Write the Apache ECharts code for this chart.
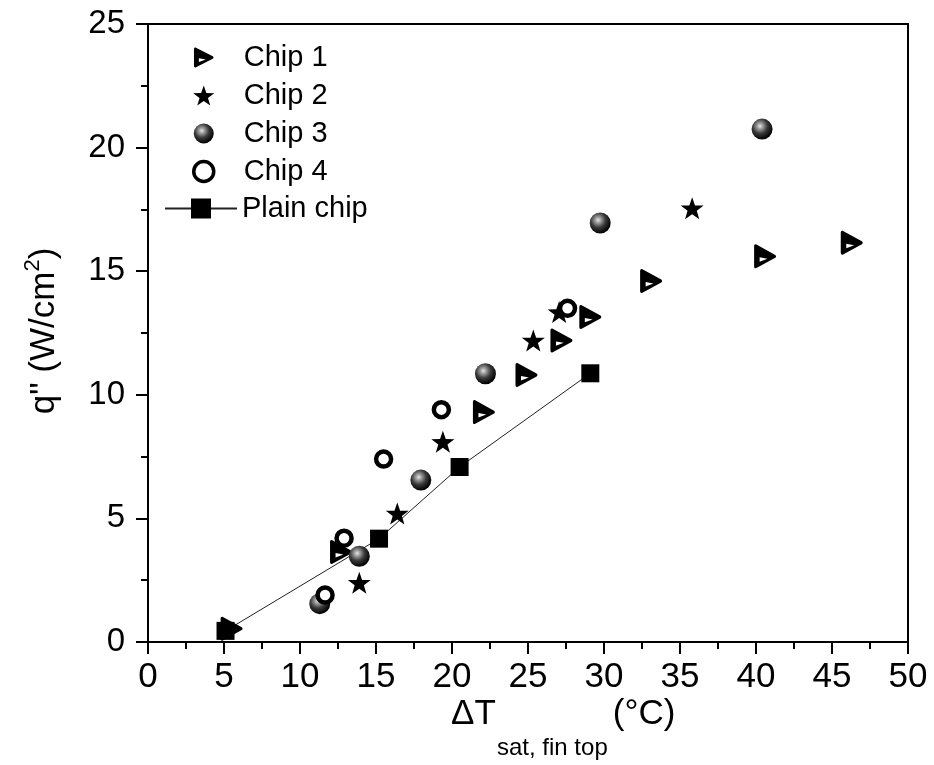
<!DOCTYPE html>
<html>
<head>
<meta charset="utf-8">
<script src="https://cdn.jsdelivr.net/npm/echarts@6/dist/echarts.min.js"></script>
<style>
  html, body { margin: 0; padding: 0; background: #ffffff; }
  #chart { width: 934px; height: 765px; }
</style>
</head>
<body>
<div id="chart"></div>
<script>
// Superheat (deg C) and heat flux (W/cm^2) for each chip
const chip1X = [5.5, 12.7, 22.1, 24.9, 27.2, 29.1, 33.1, 40.6, 46.3];
const chip1Y = [0.54, 3.64, 9.3, 10.8, 12.2, 13.15, 14.6, 15.6, 16.15];
const chip2X = [13.9, 16.4, 19.4, 25.35, 27.05, 35.8];
const chip2Y = [2.4, 5.2, 8.1, 12.2, 13.35, 17.55];
const chip3X = [11.3, 13.9, 17.95, 22.2, 29.75, 40.4];
const chip3Y = [1.55, 3.47, 6.55, 10.85, 16.95, 20.75];
const chip4X = [11.65, 12.9, 15.5, 19.3, 27.6];
const chip4Y = [1.9, 4.2, 7.4, 9.4, 13.5];
const plainX = [5.1, 15.2, 20.5, 29.1];
const plainY = [0.45, 4.18, 7.08, 10.87];

const xTicks = [0, 5, 10, 15, 20, 25, 30, 35, 40, 45, 50];
const yTicks = [0, 5, 10, 15, 20, 25];

const seriesNames = ['Chip 1', 'Chip 2', 'Chip 3', 'Chip 4', 'Plain chip'];

const pairs = (xs, ys) => xs.map((x, i) => [x, ys[i]]);

// right-pointing triangle with a small white notch
const triangleSymbol = 'path://M12,2 C6,-1 2,3 2,9 L2,91 C2,97 6,101 12,98 L94,56 C99,53 99,47 94,44 Z M26,54 L60,60 L26,72 Z';

// five-pointed star
function starSymbol() {
  const pts = [];
  for (let i = 0; i < 10; i++) {
    const a = (-90 + i * 36) * Math.PI / 180;
    const r = i % 2 === 0 ? 50 : 20;
    pts.push((50 + r * Math.cos(a)).toFixed(2) + ',' + (50 + r * Math.sin(a)).toFixed(2));
  }
  return 'path://M' + pts.join(' L') + ' Z';
}

const sphereFill = {
  type: 'radial', x: 0.4, y: 0.36, r: 0.64,
  colorStops: [
    { offset: 0, color: '#e8e8e8' },
    { offset: 0.18, color: '#a8a8a8' },
    { offset: 0.55, color: '#3a3a3a' },
    { offset: 1, color: '#000000' }
  ]
};

const FONT = 'Liberation Sans, Arial, sans-serif';

const chart = echarts.init(document.getElementById('chart'), null, { renderer: 'canvas' });

chart.setOption({
  animation: false,
  backgroundColor: '#ffffff',
  grid: {
    left: 148, right: 26, top: 24, bottom: 123,
    show: true, borderColor: '#000', borderWidth: 2, backgroundColor: 'transparent',
    outerBoundsMode: 'none'
  },
  legend: [
    {
      data: [
        seriesNames[0], seriesNames[1], seriesNames[2],
        { name: seriesNames[3], itemStyle: { borderWidth: 3.5 } }
      ],
      orient: 'vertical',
      left: 187, top: 36,
      itemWidth: 70, itemHeight: 20, itemGap: 5,
      textStyle: { fontSize: 29, fontFamily: FONT, color: '#000', lineHeight: 33 },
      selectedMode: false
    },
    {
      data: [seriesNames[4]],
      orient: 'vertical',
      left: 159, top: 187,
      itemWidth: 72, itemHeight: 25,
      textStyle: { fontSize: 29, fontFamily: FONT, color: '#000', lineHeight: 33 },
      selectedMode: false
    }
  ],
  xAxis: {
    type: 'value', min: xTicks[0], max: xTicks[xTicks.length - 1], interval: 5,
    axisLine: { show: true, onZero: false, lineStyle: { color: '#000', width: 2 } },
    axisTick: { show: true, inside: false, length: 12, lineStyle: { color: '#000', width: 2 } },
    minorTick: { show: true, splitNumber: 2, length: 7, lineStyle: { color: '#000', width: 2 } },
    splitLine: { show: false },
    axisLabel: { fontSize: 35, fontFamily: FONT, color: '#000', margin: 18 }
  },
  yAxis: {
    type: 'value', min: yTicks[0], max: yTicks[yTicks.length - 1], interval: 5,
    axisLine: { show: true, onZero: false, lineStyle: { color: '#000', width: 2 } },
    axisTick: { show: true, inside: false, length: 12, lineStyle: { color: '#000', width: 2 } },
    minorTick: { show: true, splitNumber: 2, length: 7, lineStyle: { color: '#000', width: 2 } },
    splitLine: { show: false },
    axisLabel: { fontSize: 33, fontFamily: FONT, color: '#000', margin: 23 }
  },
  graphic: [
    { type: 'text', x: 451, y: 714, silent: true,
      style: { text: 'ΔT', fontSize: 35, fontFamily: FONT, fill: '#000', align: 'left', verticalAlign: 'middle' } },
    { type: 'text', x: 497, y: 748, silent: true,
      style: { text: 'sat, fin top', fontSize: 24, fontFamily: FONT, fill: '#000', align: 'left', verticalAlign: 'middle' } },
    { type: 'text', x: 603, y: 714, silent: true,
      style: { text: ' (°C)', fontSize: 35, fontFamily: FONT, fill: '#000', align: 'left', verticalAlign: 'middle' } },
    { type: 'text', x: 44, y: 331, rotation: Math.PI / 2, silent: true,
      style: {
        text: '{a|q" (W/cm}{s|2}{a|)}',
        align: 'center', verticalAlign: 'middle',
        rich: {
          a: { fontSize: 35, fontFamily: FONT, fill: '#000', color: '#000', lineHeight: 44 },
          s: { fontSize: 22, fontFamily: FONT, fill: '#000', color: '#000', lineHeight: 12, verticalAlign: 'top' }
        }
      } }
  ],
  series: [
    {
      name: 'Plain chip', type: 'line', data: pairs(plainX, plainY),
      symbol: 'rect', symbolSize: 18, showSymbol: true,
      lineStyle: { color: '#222', width: 1 },
      itemStyle: { color: '#000' },
      z: 2
    },
    {
      name: 'Chip 1', type: 'scatter', data: pairs(chip1X, chip1Y),
      symbol: triangleSymbol, symbolSize: [22, 24],
      itemStyle: { color: '#000', opacity: 1 }, z: 3
    },
    {
      name: 'Chip 2', type: 'scatter', data: pairs(chip2X, chip2Y),
      symbol: starSymbol(), symbolSize: [23, 22],
      itemStyle: { color: '#000', opacity: 1 }, z: 3
    },
    {
      name: 'Chip 3', type: 'scatter', data: pairs(chip3X, chip3Y),
      symbol: 'circle', symbolSize: 21,
      itemStyle: { color: sphereFill, opacity: 1 }, z: 3
    },
    {
      name: 'Chip 4', type: 'scatter', data: pairs(chip4X, chip4Y),
      symbol: 'circle', symbolSize: 15,
      itemStyle: { color: '#fff', borderColor: '#000', borderWidth: 4.5, opacity: 1 }, z: 3
    }
  ]
});
</script>
</body>
</html>
